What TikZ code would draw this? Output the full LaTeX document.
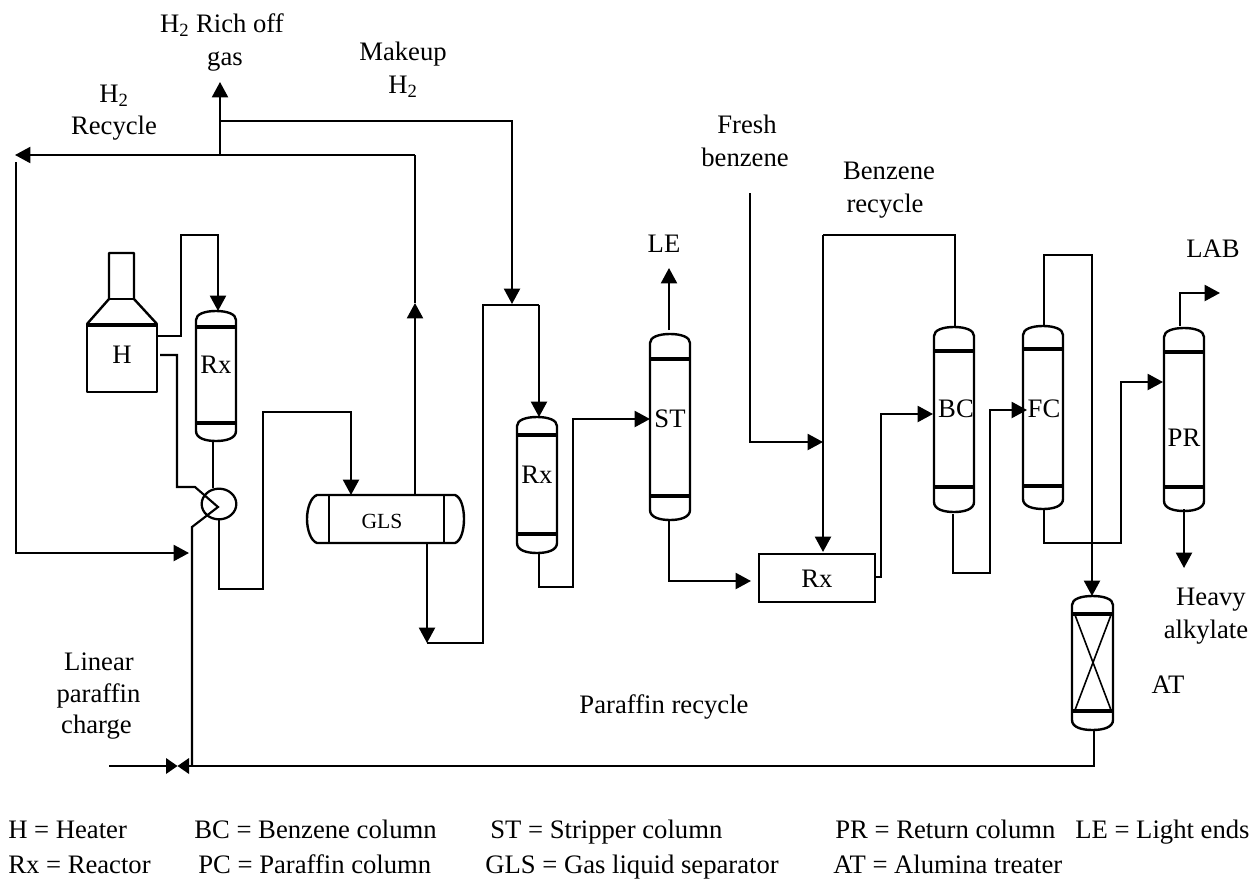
\documentclass[tikz,border=0pt]{standalone}
\usepackage{fontspec}
\setmainfont{Liberation Serif}
\usetikzlibrary{arrows.meta,shapes.geometric}
\tikzset{
  pipe/.style={line width=1.6pt,line join=miter},
  thin pipe/.style={line width=1.2pt},
  flow/.style={pipe,-{Stealth[length=11.5pt,width=12pt,inset=0pt]}},
  txt/.style={inner sep=0pt,anchor=base,font=\fontsize{20pt}{24pt}\selectfont},
  legend/.style={txt,anchor=base west},
  shell/.style={line width=1.8pt,line join=round},
  tray/.style={line width=2.7pt},
  anchorbox/.style={inner sep=0pt,outer sep=0pt,draw=none}
}
\newcommand{\sbtwo}{\textsubscript{2}}
% name, xl, xr, top, line1, line2, bottom
\newcommand{\vessel}[7]{%
  \pgfmathsetmacro{\cxv}{(#2+#3)/2}%
  \pgfmathsetmacro{\cyv}{(#4+#7)/2}%
  \pgfmathsetmacro{\wv}{(#3-#2)*0.75}%
  \pgfmathsetmacro{\hv}{(#7-#4)*0.75}%
  \node[anchorbox,minimum width=\wv pt,minimum height=\hv pt] (#1) at (\cxv,\cyv) {};
  \draw[shell] (#2,#5) -- (#2,#4+9) .. controls (#2,#4+3) and (#2+9,#4) .. (\cxv,#4)
     .. controls (#3-9,#4) and (#3,#4+3) .. (#3,#4+9) -- (#3,#5)
     -- (#3,#6) -- (#3,#7-10) .. controls (#3,#7-3) and (#3-9,#7) .. (\cxv,#7)
     .. controls (#2+9,#7) and (#2,#7-3) .. (#2,#7-10) -- (#2,#6) -- cycle;
  \draw[tray] (#2,#5) -- (#3,#5) (#2,#6) -- (#3,#6);
}
\begin{document}
\begin{tikzpicture}[x=0.75pt,y=-0.75pt]
\useasboundingbox (0,0) rectangle (1249,878);
% Heater
\node[anchorbox,minimum width=52.5pt,minimum height=51pt] (heater) at (122,358) {};
\draw[shell] (87,324) rectangle (157,392);
\draw[shell] (87,324) -- (109,299) -- (109,253) -- (134,253) -- (134,299) -- (157,324);
\draw[shell] (109,299) -- (134,299);
\draw[tray] (87,325) -- (157,325);
\node[txt] (hlabel) at (122,363) {H};
% Vessels
\vessel{rxa}{196}{236}{311}{327}{423}{441}
\node[txt] (rxalabel) at (216,373) {Rx};
\vessel{rxb}{517}{557}{417}{435}{534}{553}
\node[txt] (rxblabel) at (537,483) {Rx};
\vessel{st}{650}{690}{334}{359}{496}{520}
\node[txt] (stlabel) at (670,427) {ST};
\vessel{bc}{934}{974}{327}{351}{487}{512}
\node[txt] (bclabel) at (956,417) {BC};
\vessel{fc}{1023}{1063}{326}{349}{486}{509}
\node[txt] (fclabel) at (1044,417) {FC};
\vessel{pr}{1164}{1204}{328}{352}{487}{511}
\node[txt] (prlabel) at (1184,446) {PR};
\vessel{at}{1072}{1113}{596}{614}{711}{730}
\draw[thin pipe] (1075,615) -- (1111,710) (1111,615) -- (1075,710);
% GLS
\node[anchorbox,minimum width=117.75pt,minimum height=36pt] (gls) at (385.5,519) {};
\draw[shell] (317,495) -- (455,495) .. controls (461,497) and (464,508) .. (464,519)
  .. controls (464,530) and (461,541) .. (455,543) -- (317,543)
  .. controls (311,541) and (307,530) .. (307,519) .. controls (307,508) and (311,497) .. (317,495) -- cycle;
\draw[line width=2.1pt] (329,495) -- (329,543) (444,495) -- (444,543);
\node[inner sep=0pt,anchor=base,font=\fontsize{16.2pt}{18pt}\selectfont] (glslabel) at (382,528) {GLS};
% Rx box
\node[draw,line width=1.6pt,minimum width=87pt,minimum height=36pt,inner sep=0pt,anchor=north west] (rxc) at (758,553) {};
\node[txt] (rxclabel) at (817,587) {Rx};
% Exchanger
\node[draw,ellipse,line width=1.7pt,minimum width=26pt,minimum height=23pt,inner sep=0pt] (hx) at (219,504) {};
% Valve
\coordinate (va) at (166,758); \coordinate (vb) at (166,774);
\coordinate (vc) at (189,758); \coordinate (vd) at (189,774);
\fill (va) -- (vd) -- (vc) -- (vb) -- cycle;
% Connection points
\coordinate (hup) at (157,336);
\coordinate (hlow) at (160,355);
\coordinate (vtee) at (192,766);
\coordinate (hxtip) at (218,507);
\coordinate (hxleft) at (195,487);
\coordinate (hxlow) at (192,527);
\coordinate (charge) at (109,766);
\coordinate (recyclein) at (189,553);
\coordinate (recyclestart) at (16,162);
\coordinate (offtee) at (220,155);
\coordinate (offgas) at (220,82);
\coordinate (recycleout) at (15,155);
\coordinate (glsup) at (415,495);
\coordinate (glsmid) at (415,303);
\coordinate (glscorner) at (415,155);
\coordinate (mkstart) at (220,121);
\coordinate (mktip) at (512,304);
\coordinate (glsbottom) at (427,543);
\coordinate (glsdown) at (427,643);
\coordinate (rxbtop) at (539,417);
\coordinate (rxbbot) at (539,553);
\coordinate (stin) at (650,419);
\coordinate (letip) at (669,268);
\coordinate (ltop) at (669,330);
\coordinate (stbot) at (669,521);
\coordinate (rxcin) at (751,581);
\coordinate (fresh) at (750,193);
\coordinate (freshtip) at (823,442);
\coordinate (brtop) at (823,235);
\coordinate (brtip) at (823,552);
\coordinate (rxcout) at (875,577);
\coordinate (bcin) at (933,414);
\coordinate (bcbot) at (953,514);
\coordinate (fcin) at (1027,410);
\coordinate (fctop) at (1044,326);
\coordinate (fcbot) at (1044,510);
\coordinate (prin) at (1163,382);
\coordinate (prtop) at (1180,326);
\coordinate (lab) at (1220,293);
\coordinate (prbot) at (1184,509);
\coordinate (hvy) at (1184,568);
\coordinate (attop) at (1092,596);
\coordinate (atbot) at (1094,730);
% Connectors
\draw[flow] (hup) -- (181,336) -- (181,235) -- (218,235) -- (218,311);
\draw[pipe] (hlow) -- (177,355) -- (177,487) -- (hxleft) -- (hxtip) -- (hxlow) -- (vtee);
\draw[thin pipe] (213,441) -- (213,488);
\draw[flow] (219,520) -- (219,589) -- (263,589) -- (263,412) -- (351,412) -- (351,495);
\draw[flow] (recyclestart) -- (16,553) -- (recyclein);
\draw[pipe] (glscorner) -- (offtee);
\draw[flow] (offtee) -- (recycleout);
\draw[flow] (offtee) -- (offgas);
\draw[flow] (mkstart) -- (512,121) -- (mktip);
\draw[flow] (glsup) -- (glsmid);
\draw[pipe] (glsmid) -- (glscorner);
\draw[flow] (glsbottom) -- (glsdown);
\draw[pipe] (glsdown) -- (483,643) -- (483,305) -- (539,305);
\draw[flow] (539,305) -- (rxbtop);
\draw[flow] (rxbbot) -- (539,587) -- (573,587) -- (573,419) -- (stin);
\draw[flow] (ltop) -- (letip);
\draw[flow] (stbot) -- (669,581) -- (rxcin);
\draw[flow] (fresh) -- (750,442) -- (freshtip);
\draw[flow] (brtop) -- (brtip);
\draw[pipe] (brtop) -- (955,235) -- (955,327);
\draw[flow] (rxcout) -- (881,577) -- (881,414) -- (bcin);
\draw[flow] (bcbot) -- (953,573) -- (990,573) -- (990,410) -- (fcin);
\draw[flow] (fctop) -- (1044,255) -- (1092,255) -- (attop);
\draw[flow] (fcbot) -- (1044,543) -- (1121,543) -- (1121,382) -- (prin);
\draw[flow] (prtop) -- (1180,293) -- (lab);
\draw[flow] (prbot) -- (hvy);
\draw[pipe] (atbot) -- (1094,766) -- (vtee);
\draw[pipe] (vtee) -- (189,766);
\draw[pipe] (charge) -- (166,766);
% Labels
\node[txt] (t1) at (222,32) {H\sbtwo{} Rich off};
\node[txt] (t2) at (225,65) {gas};
\node[txt] (t3) at (403,60) {Makeup};
\node[txt] (t4) at (403,93) {H\sbtwo};
\node[txt] (t5) at (114,102) {H\sbtwo};
\node[txt] (t6) at (114,134) {Recycle};
\node[txt] (t7) at (747,133) {Fresh};
\node[txt] (t8) at (745,166) {benzene};
\node[txt] (t9) at (889,179) {Benzene};
\node[txt] (t10) at (885,212) {recycle};
\node[txt] (t11) at (664,252) {LE};
\node[txt] (t12) at (1213,257) {LAB};
\node[txt] (t13) at (1211,605) {Heavy};
\node[txt] (t14) at (1206,638) {alkylate};
\node[txt] (t15) at (1168,693) {AT};
\node[txt] (t16) at (99,670) {Linear};
\node[txt] (t17) at (98.5,702) {paraffin};
\node[txt] (t18) at (96.5,733) {charge};
\node[txt] (t19) at (664,713) {Paraffin recycle};
% Legend
\node[legend] (l1) at (8,838) {H = Heater};
\node[legend] (l2) at (194,838) {BC = Benzene column};
\node[legend] (l3) at (490,838) {ST = Stripper column};
\node[legend] (l4) at (835,838) {PR = Return column};
\node[legend] (l5) at (1075,838) {LE = Light ends};
\node[legend] (l6) at (8,873) {Rx = Reactor};
\node[legend] (l7) at (198,873) {PC = Paraffin column};
\node[legend] (l8) at (485,873) {GLS = Gas liquid separator};
\node[legend] (l9) at (833,873) {AT = Alumina treater};
\end{tikzpicture}
\end{document}
